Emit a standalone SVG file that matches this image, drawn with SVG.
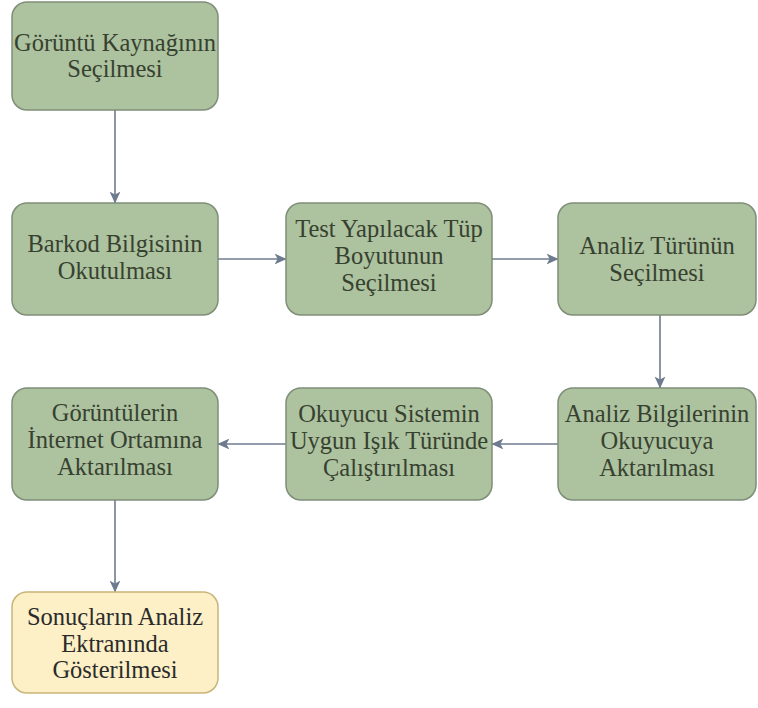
<svg xmlns="http://www.w3.org/2000/svg" width="758" height="708" viewBox="0 0 758 708">
<defs>
<style>
.g{fill:#adc29f;stroke:#7f8e78;stroke-width:1.5}
.y{fill:#fdefc6;stroke:#c9b57a;stroke-width:1.5}
.t{font-family:"Liberation Serif","Times New Roman",serif;font-size:24.5px;fill:#37412f;text-anchor:middle}
.ty{fill:#2b2b2b}
.c{stroke:#6e7b8e;stroke-width:1.6;fill:none;marker-end:url(#ah)}
</style>
<marker id="ah" viewBox="0 0 10 10" refX="9.5" refY="5" markerWidth="12" markerHeight="12" markerUnits="userSpaceOnUse" orient="auto">
<path d="M0,0.5 L10,5 L0,9.5 L2.5,5 Z" fill="#6e7b8e"/>
</marker>
</defs>
<rect width="758" height="708" fill="#ffffff"/>
<g id="connectors">
<line class="c" x1="115" y1="110" x2="115" y2="203"/>
<line class="c" x1="218" y1="259" x2="286" y2="259"/>
<line class="c" x1="492" y1="259" x2="558" y2="259"/>
<line class="c" x1="660" y1="315" x2="660" y2="388"/>
<line class="c" x1="558" y1="444" x2="492" y2="444"/>
<line class="c" x1="286" y1="444" x2="218" y2="444"/>
<line class="c" x1="115" y1="500" x2="115" y2="592"/>
</g>
<g id="n1">
<rect class="g" x="12" y="2" width="206" height="108" rx="15"/>
<text class="t" x="115" y="51">Görüntü Kaynağının</text>
<text class="t" x="115" y="77">Seçilmesi</text>
</g>
<g id="n2">
<rect class="g" x="12" y="203" width="206" height="112" rx="15"/>
<text class="t" x="115" y="252">Barkod Bilgisinin</text>
<text class="t" x="115" y="279">Okutulması</text>
</g>
<g id="n3">
<rect class="g" x="286" y="203" width="206" height="112" rx="15"/>
<text class="t" x="389" y="237">Test Yapılacak Tüp</text>
<text class="t" x="389" y="264">Boyutunun</text>
<text class="t" x="389" y="291">Seçilmesi</text>
</g>
<g id="n4">
<rect class="g" x="558" y="203" width="198" height="112" rx="15"/>
<text class="t" x="657" y="254">Analiz Türünün</text>
<text class="t" x="657" y="281">Seçilmesi</text>
</g>
<g id="n5">
<rect class="g" x="558" y="388" width="198" height="112" rx="15"/>
<text class="t" x="657" y="422">Analiz Bilgilerinin</text>
<text class="t" x="657" y="449">Okuyucuya</text>
<text class="t" x="657" y="476">Aktarılması</text>
</g>
<g id="n6">
<rect class="g" x="286" y="388" width="206" height="112" rx="15"/>
<text class="t" x="389" y="422">Okuyucu Sistemin</text>
<text class="t" x="389" y="449">Uygun Işık Türünde</text>
<text class="t" x="389" y="476">Çalıştırılması</text>
</g>
<g id="n7">
<rect class="g" x="12" y="388" width="206" height="112" rx="15"/>
<text class="t" x="115" y="421">Görüntülerin</text>
<text class="t" x="115" y="448">İnternet Ortamına</text>
<text class="t" x="115" y="475">Aktarılması</text>
</g>
<g id="n8">
<rect class="y" x="12" y="592" width="206" height="101" rx="15"/>
<text class="t ty" x="115" y="625">Sonuçların Analiz</text>
<text class="t ty" x="115" y="652">Ektranında</text>
<text class="t ty" x="115" y="678">Gösterilmesi</text>
</g>
</svg>
